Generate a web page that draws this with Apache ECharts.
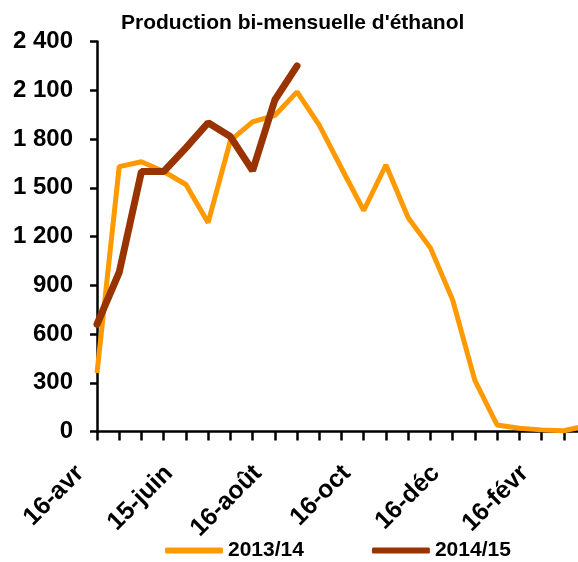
<!DOCTYPE html>
<html>
<head>
<meta charset="utf-8">
<script src="https://cdn.jsdelivr.net/npm/echarts@6/dist/echarts.min.js"></script>
<style>
	html, body {margin:0; padding:0; background:#fff;}
	#ethanolChart {width:578px; height:562px;}
</style>
</head>
<body>
<div id="ethanolChart"></div>
<script>
// quinzaines, 16 avril -> mars
var periods = ['16-avr','1-mai','16-mai','1-juin','15-juin','1-juil','16-juil','1-août','16-août','1-sept','16-sept','1-oct',
	'16-oct','1-nov','16-nov','1-déc','16-déc','1-janv','16-janv','1-févr','16-févr','1-mars','16-mars'];
var prod1314 = [360,1630,1660,1600,1520,1285,1790,1905,1945,2090,1885,1620,1360,1640,1315,1130,810,315,40,20,10,5,35];
var prod1415 = [660,980,1600,1600,1745,1900,1815,1605,2040,2250];
var yTicks = [0,300,600,900,1200,1500,1800,2100,2400];

function formatNum(v){
	return String(v).replace(/\B(?=(\d{3})+(?!\d))/g, ' ');
}

var fontFam = 'Liberation Sans, Arial, sans-serif';
var myChart = echarts.init(document.getElementById('ethanolChart'));
var option = {
	animation: false,
	title : {
		text: "Production bi-mensuelle d'éthanol",
		left: 116,
		top: 8,
		textStyle:{
			color:'#000',
			fontSize:21,
			fontWeight:'bold',
			fontFamily:fontFam
		}
	},
	legend: {
		left: 160,
		top: 535,
		itemWidth: 58,
		itemHeight: 6,
		itemGap: 68,
		icon: 'roundRect',
		textStyle:{
			color:'#000',
			fontSize:21,
			fontWeight:'bold',
			fontFamily:fontFam
		},
		data: ['2013/14','2014/15']
	},
	grid:{
		left:97,
		top:41.5,
		right:-8,
		bottom:130.5,
		outerBoundsMode:'none'
	},
	xAxis: {
		type: 'category',
		boundaryGap : false,
		data: periods,
		axisLine:{lineStyle:{color:'#000',width:2.5}},
		axisTick:{show:true,interval:0,length:9,lineStyle:{color:'#000',width:2.5}},
		axisLabel:{
			interval:3,
			rotate:45,
			margin:21,
			padding:[0,24,0,0],
			color:'#000',
			fontSize:25,
			fontWeight:'bold',
			fontFamily:fontFam
		},
		splitLine:{show:false}
	},
	yAxis: {
		type: 'value',
		min: yTicks[0],
		max: yTicks[yTicks.length-1],
		interval: 300,
		axisLine:{show:true,lineStyle:{color:'#000',width:2.5}},
		axisTick:{show:true,length:7,lineStyle:{color:'#000',width:2.5}},
		axisLabel:{
			margin:24,
			color:'#000',
			fontSize:24,
			fontWeight:'bold',
			fontFamily:fontFam,
			formatter:formatNum
		},
		splitLine:{show:false}
	},
	series: [{
		name:'2013/14',
		type:'line',
		symbol:'none',
		data:prod1314,
		itemStyle:{color:'#FF9900'},
		lineStyle:{color:'#FF9900',width:5}
	},{
		name:'2014/15',
		type:'line',
		symbol:'none',
		data:prod1415,
		itemStyle:{color:'#993300'},
		lineStyle:{color:'#993300',width:7,cap:'round'}
	}]
};
myChart.setOption(option);
</script>
</body>
</html>
